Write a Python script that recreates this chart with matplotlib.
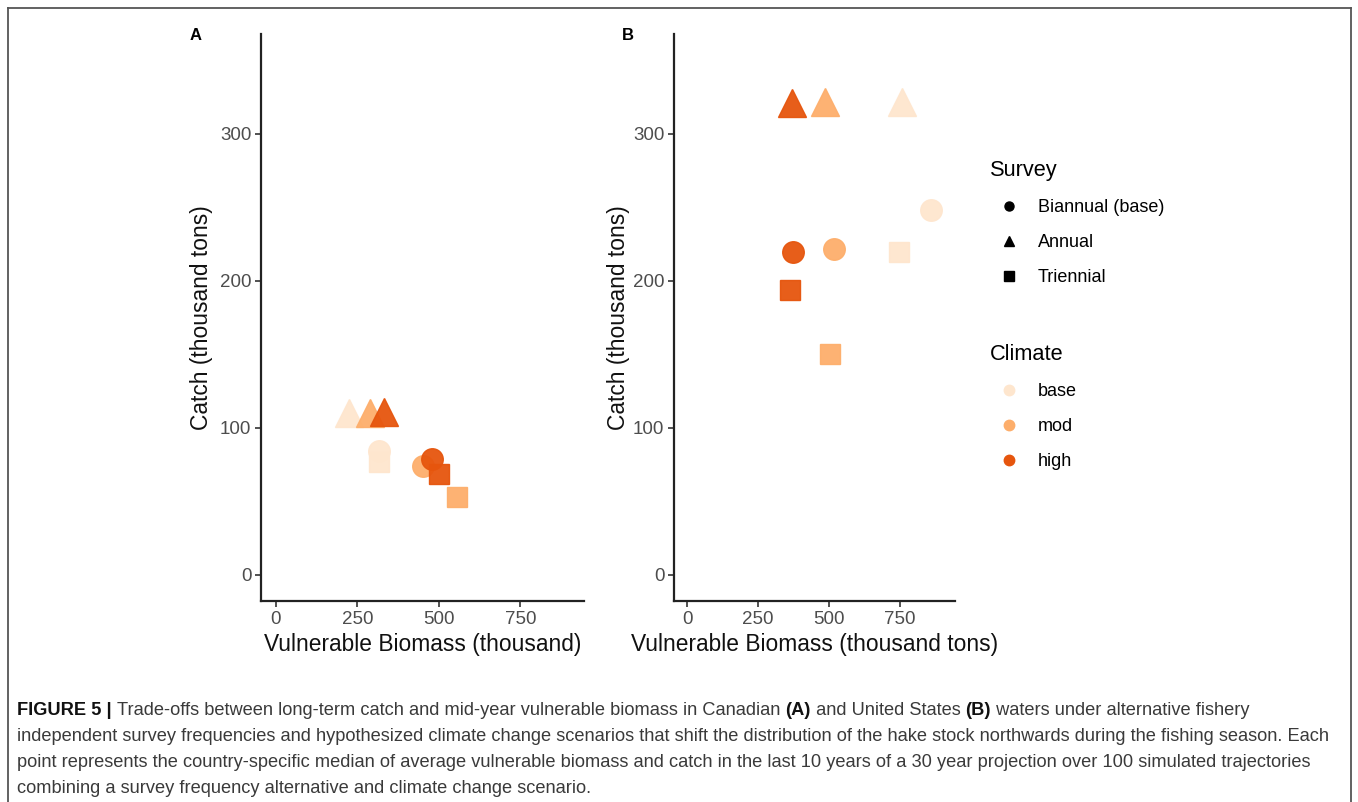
import matplotlib
matplotlib.use("Agg")
import matplotlib.pyplot as plt
from matplotlib.lines import Line2D

plt.rcParams['font.family'] = ['Liberation Sans', 'DejaVu Sans']

surveys = ["Biannual (base)", "Annual", "Triennial"]
survey_markers = ["o", "^", "s"]
climates = ["base", "mod", "high"]
climate_colors = ["#FEE6CE", "#FDAE6B", "#E6550D"]

# panel A (Canada): rows = survey, cols = climate
biomass_ca = [[316, 451, 478],
              [224, 288, 331],
              [316, 555, 500]]
catch_ca = [[84, 74, 79],
            [110, 110, 111],
            [77, 53, 69]]

# panel B (United States)
biomass_us = [[859, 518, 373],
              [757, 486, 370],
              [746, 503, 363]]
catch_us = [[248, 222, 220],
            [322, 322, 321],
            [220, 150, 194]]

marker_sizes = {"o": 15.5, "^": 20, "s": 15}
axis_grey = "#4D4D4D"

DPI = 100
fig = plt.figure(figsize=(13.58, 8.02), dpi=DPI)


def draw_panel(ax, biomass, catch, xlabel, ylab_x):
    for i, m in enumerate(survey_markers):
        for j, col in enumerate(climate_colors):
            ax.plot(biomass[i][j], catch[i][j], marker=m, ms=marker_sizes[m],
                    color=col, mec=col, ls="none", alpha=0.95)
    ax.set_xlim(-46, 945)
    ax.set_ylim(-17.7, 368)
    ax.set_xticks([0, 250, 500, 750])
    ax.set_yticks([0, 100, 200, 300])
    for s in ["top", "right"]:
        ax.spines[s].set_visible(False)
    for s in ["left", "bottom"]:
        ax.spines[s].set_linewidth(1.6)
        ax.spines[s].set_color("#222222")
    ax.tick_params(length=4, width=1.2, color="#333333", labelsize=13.5,
                   labelcolor=axis_grey, pad=3)
    ax.set_xlabel(xlabel, fontsize=16.4, color="#111111")
    ax.set_ylabel("Catch (thousand tons)", fontsize=16.4, color="#111111")
    ax.xaxis.set_label_coords(0.5, -0.056)
    ax.yaxis.set_label_coords(ylab_x, 0.5)


ax_a = fig.add_axes([261 / 1358, 1 - 601 / 802, 323 / 1358, 567 / 802])
ax_b = fig.add_axes([674 / 1358, 1 - 601 / 802, 281 / 1358, 567 / 802])
draw_panel(ax_a, biomass_ca, catch_ca, "Vulnerable Biomass (thousand)", -0.149)
draw_panel(ax_b, biomass_us, catch_us, "Vulnerable Biomass (thousand tons)", -0.157)

fig.text(196 / 1358, 1 - 35 / 802, "A", fontsize=12, fontweight="bold",
         ha="center", va="center")
fig.text(628 / 1358, 1 - 35 / 802, "B", fontsize=12, fontweight="bold",
         ha="center", va="center")

# legends
survey_handles = [Line2D([], [], marker=m, color="black", ls="none", ms=6.5)
                  for m in survey_markers]
climate_handles = [Line2D([], [], marker="o", color=c, ls="none", ms=7.5)
                   for c in climate_colors]
leg_kw = dict(loc="upper left", frameon=False, alignment="left", fontsize=13,
              title_fontsize=15.7, labelspacing=1.0, handletextpad=0.55,
              handlelength=2.1, borderpad=0, borderaxespad=0)
leg1 = fig.legend(survey_handles, surveys, title="Survey",
                  bbox_to_anchor=(990 / 1358, 1 - 160 / 802), **leg_kw)
leg2 = fig.legend(climate_handles, climates, title="Climate",
                  bbox_to_anchor=(990 / 1358, 1 - 344 / 802), **leg_kw)

# frame around the figure panel
frame_kw = dict(color="#555555", lw=1.3, transform=fig.transFigure)
fig.add_artist(Line2D([8 / 1358, 1351 / 1358], [1 - 8 / 802, 1 - 8 / 802], **frame_kw))
fig.add_artist(Line2D([8 / 1358, 8 / 1358], [0, 1 - 8 / 802], **frame_kw))
fig.add_artist(Line2D([1351 / 1358, 1351 / 1358], [0, 1 - 8 / 802], **frame_kw))

# caption
cap_color = "#3A3A3A"
cap_size = 13.15
cap_x = 17
line_y = [715, 741, 767, 793]
renderer = fig.canvas.get_renderer()

first_line = [("FIGURE 5 | ", "bold", "#111111"),
              ("Trade-offs between long-term catch and mid-year vulnerable biomass in Canadian ", "normal", cap_color),
              ("(A)", "bold", "#111111"),
              (" and United States ", "normal", cap_color),
              ("(B)", "bold", "#111111"),
              (" waters under alternative fishery", "normal", cap_color)]
x = cap_x
for txt, weight, col in first_line:
    t = fig.text(x / 1358, 1 - line_y[0] / 802, txt, fontsize=cap_size,
                 fontweight=weight, color=col, va="baseline", ha="left")
    x = t.get_window_extent(renderer).x1

other_lines = [
    "independent survey frequencies and hypothesized climate change scenarios that shift the distribution of the hake stock northwards during the fishing season. Each",
    "point represents the country-specific median of average vulnerable biomass and catch in the last 10 years of a 30 year projection over 100 simulated trajectories",
    "combining a survey frequency alternative and climate change scenario.",
]
for y, txt in zip(line_y[1:], other_lines):
    fig.text(cap_x / 1358, 1 - y / 802, txt, fontsize=cap_size, color=cap_color,
             va="baseline", ha="left")

fig.savefig("out.png", dpi=DPI)
